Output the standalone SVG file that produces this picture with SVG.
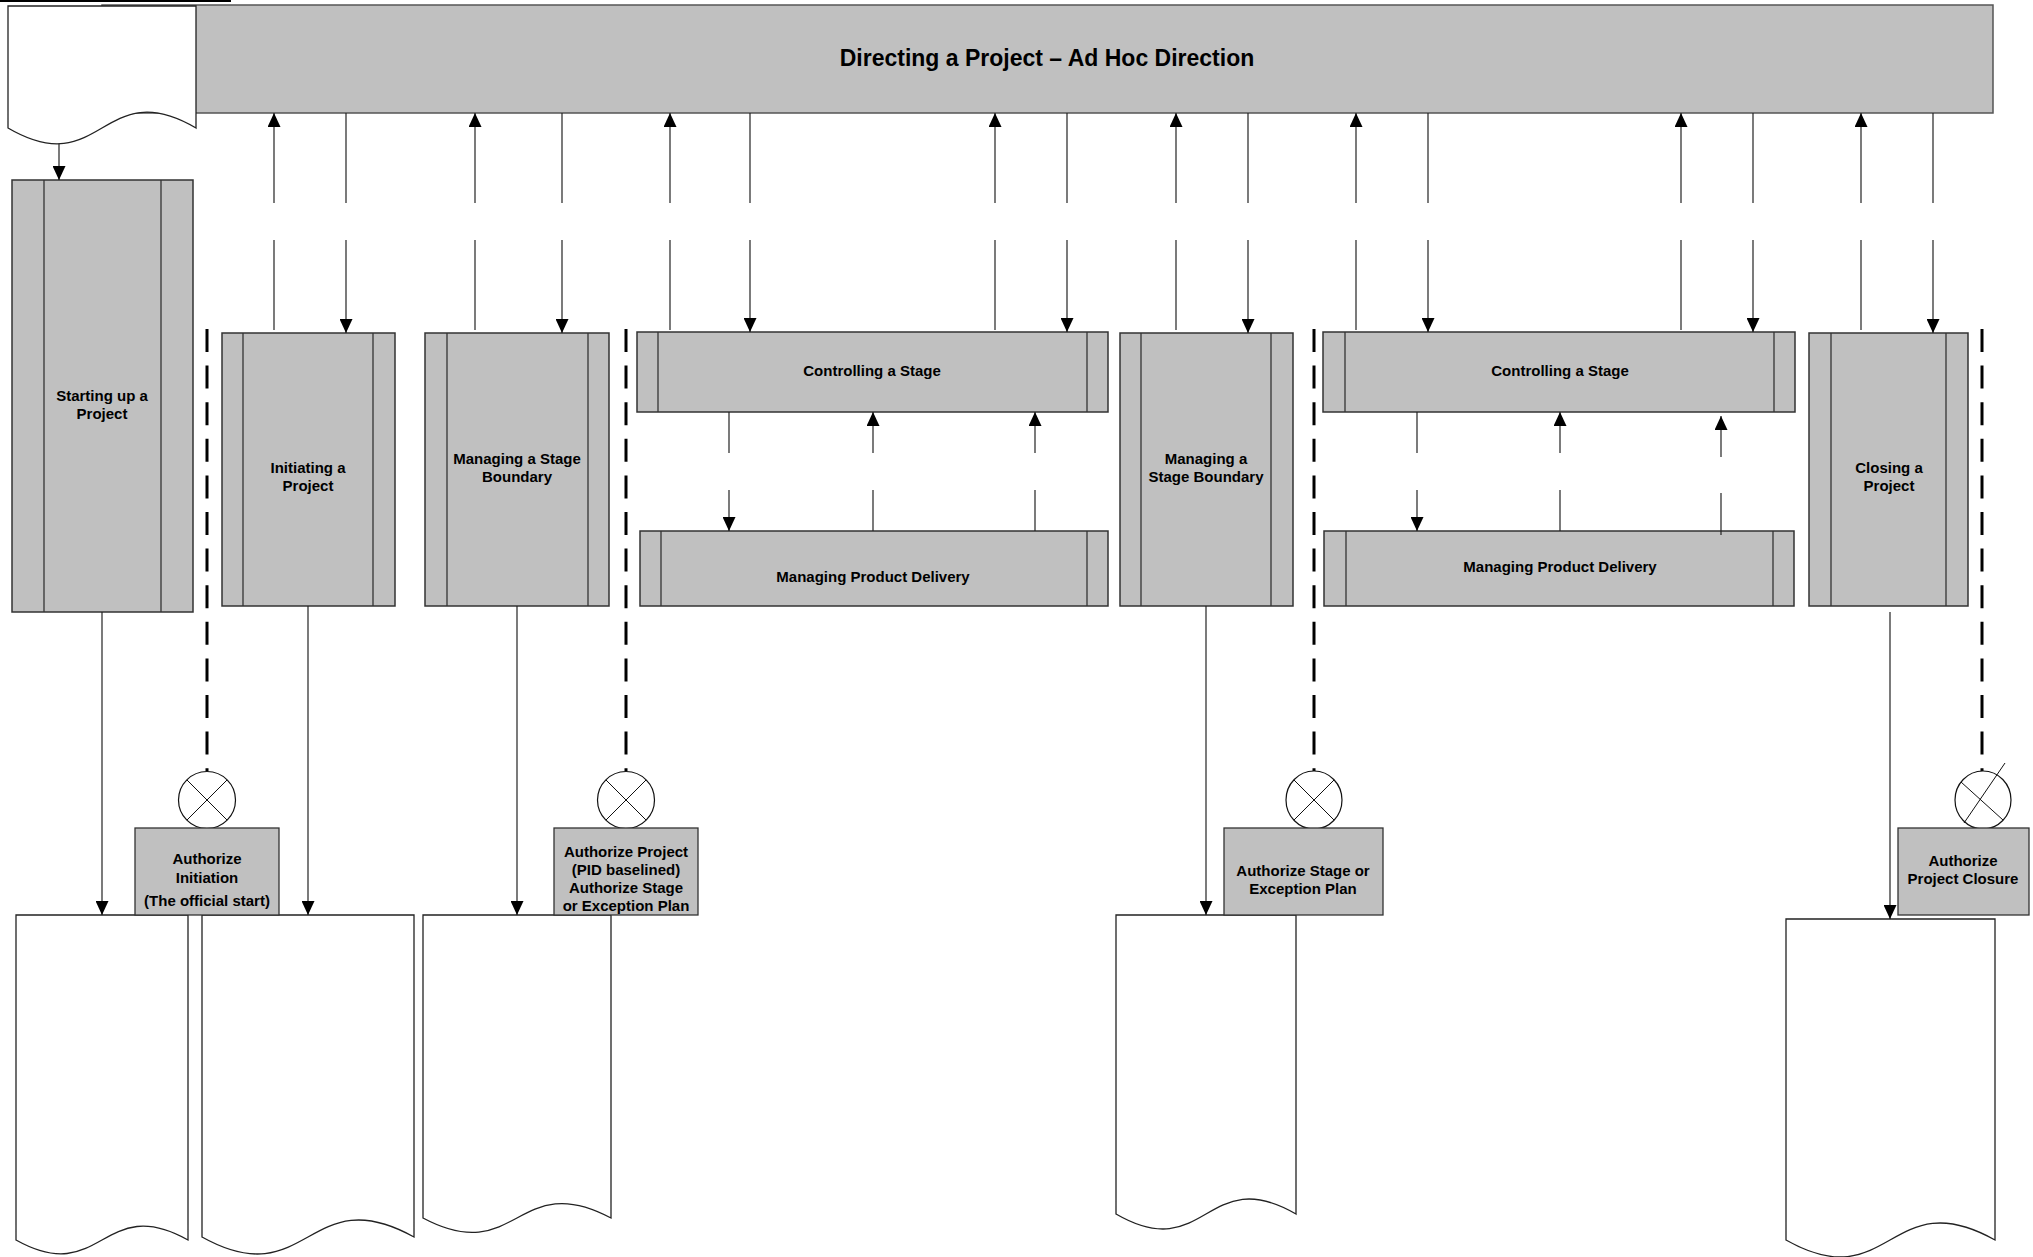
<svg xmlns="http://www.w3.org/2000/svg" width="2033" height="1257" viewBox="0 0 2033 1257">
<style>
  .bg{fill:#ffffff}
  .proc{fill:#c0c0c0;stroke:#333333;stroke-width:1.5}
  .bar{fill:#c0c0c0;stroke:#555555;stroke-width:1.5}
  .inner{stroke:#333333;stroke-width:1.3;fill:none}
  .doc{fill:#ffffff;stroke:#222222;stroke-width:1.3}
  .auth{fill:#c0c0c0;stroke:#333333;stroke-width:1.3}
  .conn{stroke:#222222;stroke-width:1.2;fill:none}
  .arr{stroke:#222222;stroke-width:1.2;fill:none;marker-end:url(#ah)}
  .dash{stroke:#000000;stroke-width:3;fill:none;stroke-dasharray:23 13.6}
  .gate{fill:#ffffff;stroke:#111111;stroke-width:1.2}
  .gx{stroke:#111111;stroke-width:1;fill:none}
  text{font-family:"Liberation Sans",Arial,Helvetica,sans-serif;font-weight:bold;font-size:15px;fill:#000000;text-anchor:middle}
  .title{font-size:23px}
</style>
<defs>
  <marker id="ah" viewBox="0 0 14 13" refX="14" refY="6.5" markerWidth="14" markerHeight="13" markerUnits="userSpaceOnUse" orient="auto">
    <path d="M0,0 L14,6.5 L0,13 Z" fill="#000000"/>
  </marker>
</defs>
<rect class="bg" x="0" y="0" width="2033" height="1257"/>
<line x1="0" y1="1" x2="231" y2="1" stroke="#000" stroke-width="2"/>

<g id="directing">
  <rect class="bar" x="102" y="5" width="1891" height="108"/>
  <text class="title" x="1047" y="66">Directing a Project – Ad Hoc Direction</text>
</g>

<g id="doc-top">
  <path class="doc" d="M8,6 H196 V128 C102,73 102,183 8,128 Z"/>
</g>

<g id="starting-up">
  <rect class="proc" x="12" y="180" width="181" height="432"/>
  <line class="inner" x1="44" y1="180" x2="44" y2="612"/>
  <line class="inner" x1="161" y1="180" x2="161" y2="612"/>
  <text x="102" y="401">Starting up a</text>
  <text x="102" y="419">Project</text>
</g>

<g id="initiating">
  <rect class="proc" x="222" y="333" width="173" height="273"/>
  <line class="inner" x1="243" y1="333" x2="243" y2="606"/>
  <line class="inner" x1="373" y1="333" x2="373" y2="606"/>
  <text x="308" y="473">Initiating a</text>
  <text x="308" y="491">Project</text>
</g>

<g id="msb1">
  <rect class="proc" x="425" y="333" width="184" height="273"/>
  <line class="inner" x1="447" y1="333" x2="447" y2="606"/>
  <line class="inner" x1="588" y1="333" x2="588" y2="606"/>
  <text x="517" y="464">Managing a Stage</text>
  <text x="517" y="482">Boundary</text>
</g>

<g id="cs1">
  <rect class="proc" x="637" y="332" width="471" height="80"/>
  <line class="inner" x1="658" y1="332" x2="658" y2="412"/>
  <line class="inner" x1="1087" y1="332" x2="1087" y2="412"/>
  <text x="872" y="376">Controlling a Stage</text>
</g>

<g id="mpd1">
  <rect class="proc" x="640" y="531" width="468" height="75"/>
  <line class="inner" x1="661" y1="531" x2="661" y2="606"/>
  <line class="inner" x1="1087" y1="531" x2="1087" y2="606"/>
  <text x="873" y="582">Managing Product Delivery</text>
</g>

<g id="msb2">
  <rect class="proc" x="1120" y="333" width="173" height="273"/>
  <line class="inner" x1="1141" y1="333" x2="1141" y2="606"/>
  <line class="inner" x1="1271" y1="333" x2="1271" y2="606"/>
  <text x="1206" y="464">Managing a</text>
  <text x="1206" y="482">Stage Boundary</text>
</g>

<g id="cs2">
  <rect class="proc" x="1323" y="332" width="472" height="80"/>
  <line class="inner" x1="1345" y1="332" x2="1345" y2="412"/>
  <line class="inner" x1="1774" y1="332" x2="1774" y2="412"/>
  <text x="1560" y="376">Controlling a Stage</text>
</g>

<g id="mpd2">
  <rect class="proc" x="1324" y="531" width="470" height="75"/>
  <line class="inner" x1="1346" y1="531" x2="1346" y2="606"/>
  <line class="inner" x1="1773" y1="531" x2="1773" y2="606"/>
  <text x="1560" y="572">Managing Product Delivery</text>
</g>

<g id="closing">
  <rect class="proc" x="1809" y="333" width="159" height="273"/>
  <line class="inner" x1="1831" y1="333" x2="1831" y2="606"/>
  <line class="inner" x1="1946" y1="333" x2="1946" y2="606"/>
  <text x="1889" y="473">Closing a</text>
  <text x="1889" y="491">Project</text>
</g>

<g id="gates">
  <line class="dash" x1="207" y1="329" x2="207" y2="771"/>
  <line class="dash" x1="626" y1="329" x2="626" y2="771"/>
  <line class="dash" x1="1314" y1="329" x2="1314" y2="771"/>
  <line class="dash" x1="1982" y1="329" x2="1982" y2="771"/>
</g>

<g id="gate1">
  <circle class="gate" cx="207" cy="800" r="28.5"/>
  <line class="gx" x1="187" y1="780" x2="227" y2="820"/>
  <line class="gx" x1="227" y1="780" x2="187" y2="820"/>
</g>
<g id="gate2">
  <circle class="gate" cx="626" cy="800" r="28.5"/>
  <line class="gx" x1="606" y1="780" x2="646" y2="820"/>
  <line class="gx" x1="646" y1="780" x2="606" y2="820"/>
</g>
<g id="gate3">
  <ellipse class="gate" cx="1314" cy="800" rx="28" ry="29"/>
  <line class="gx" x1="1294" y1="780" x2="1334" y2="820"/>
  <line class="gx" x1="1334" y1="780" x2="1294" y2="820"/>
</g>
<g id="gate4">
  <ellipse class="gate" cx="1983" cy="800" rx="28" ry="29"/>
  <line class="gx" x1="2005" y1="763" x2="1964" y2="823"/>
  <line class="gx" x1="1961" y1="782" x2="2003" y2="820"/>
</g>

<g id="docs-bottom">
  <path class="doc" d="M16,915 H188 V1240 C102,1192 102,1288 16,1240 Z"/>
  <path class="doc" d="M202,915 H414 V1237 C308,1178 308,1296 202,1237 Z"/>
  <path class="doc" d="M423,915 H611 V1218 C517,1168 517,1268 423,1218 Z"/>
  <path class="doc" d="M1116,915 H1296 V1214 C1206,1162 1206,1266 1116,1214 Z"/>
  <path class="doc" d="M1786,919 H1995 V1240 C1890,1181 1890,1299 1786,1240 Z"/>
</g>

<g id="auth-initiation">
  <rect class="auth" x="135" y="828" width="144" height="87"/>
  <text x="207" y="864">Authorize</text>
  <text x="207" y="883">Initiation</text>
  <text x="207" y="906">(The official start)</text>
</g>
<g id="auth-project">
  <rect class="auth" x="554" y="828" width="144" height="87"/>
  <text x="626" y="857">Authorize Project</text>
  <text x="626" y="875">(PID baselined)</text>
  <text x="626" y="893">Authorize Stage</text>
  <text x="626" y="911">or Exception Plan</text>
</g>
<g id="auth-stage">
  <rect class="auth" x="1224" y="828" width="159" height="87"/>
  <text x="1303" y="876">Authorize Stage or</text>
  <text x="1303" y="894">Exception Plan</text>
</g>
<g id="auth-closure">
  <rect class="auth" x="1898" y="828" width="131" height="87"/>
  <text x="1963" y="866">Authorize</text>
  <text x="1963" y="884">Project Closure</text>
</g>

<g id="connectors">
  <line class="arr" x1="59" y1="144" x2="59" y2="180"/>
  <!-- top bar pairs: up arrows -->
  <line class="conn" x1="274" y1="330" x2="274" y2="240"/><line class="arr" x1="274" y1="203" x2="274" y2="113"/>
  <line class="conn" x1="475" y1="330" x2="475" y2="240"/><line class="arr" x1="475" y1="203" x2="475" y2="113"/>
  <line class="conn" x1="670" y1="330" x2="670" y2="240"/><line class="arr" x1="670" y1="203" x2="670" y2="113"/>
  <line class="conn" x1="995" y1="330" x2="995" y2="240"/><line class="arr" x1="995" y1="203" x2="995" y2="113"/>
  <line class="conn" x1="1176" y1="330" x2="1176" y2="240"/><line class="arr" x1="1176" y1="203" x2="1176" y2="113"/>
  <line class="conn" x1="1356" y1="330" x2="1356" y2="240"/><line class="arr" x1="1356" y1="203" x2="1356" y2="113"/>
  <line class="conn" x1="1681" y1="330" x2="1681" y2="240"/><line class="arr" x1="1681" y1="203" x2="1681" y2="113"/>
  <line class="conn" x1="1861" y1="330" x2="1861" y2="240"/><line class="arr" x1="1861" y1="203" x2="1861" y2="113"/>
  <!-- down arrows -->
  <line class="conn" x1="346" y1="113" x2="346" y2="203"/><line class="arr" x1="346" y1="240" x2="346" y2="333"/>
  <line class="conn" x1="562" y1="113" x2="562" y2="203"/><line class="arr" x1="562" y1="240" x2="562" y2="333"/>
  <line class="conn" x1="750" y1="113" x2="750" y2="203"/><line class="arr" x1="750" y1="240" x2="750" y2="332"/>
  <line class="conn" x1="1067" y1="113" x2="1067" y2="203"/><line class="arr" x1="1067" y1="240" x2="1067" y2="332"/>
  <line class="conn" x1="1248" y1="113" x2="1248" y2="203"/><line class="arr" x1="1248" y1="240" x2="1248" y2="333"/>
  <line class="conn" x1="1428" y1="113" x2="1428" y2="203"/><line class="arr" x1="1428" y1="240" x2="1428" y2="332"/>
  <line class="conn" x1="1753" y1="113" x2="1753" y2="203"/><line class="arr" x1="1753" y1="240" x2="1753" y2="332"/>
  <line class="conn" x1="1933" y1="113" x2="1933" y2="203"/><line class="arr" x1="1933" y1="240" x2="1933" y2="333"/>
  <!-- controlling / delivery 1 -->
  <line class="conn" x1="729" y1="412" x2="729" y2="453"/><line class="arr" x1="729" y1="490" x2="729" y2="531"/>
  <line class="conn" x1="873" y1="531" x2="873" y2="490"/><line class="arr" x1="873" y1="453" x2="873" y2="412"/>
  <line class="conn" x1="1035" y1="531" x2="1035" y2="490"/><line class="arr" x1="1035" y1="453" x2="1035" y2="412"/>
  <!-- controlling / delivery 2 -->
  <line class="conn" x1="1417" y1="412" x2="1417" y2="453"/><line class="arr" x1="1417" y1="490" x2="1417" y2="531"/>
  <line class="conn" x1="1560" y1="531" x2="1560" y2="490"/><line class="arr" x1="1560" y1="453" x2="1560" y2="412"/>
  <line class="conn" x1="1721" y1="535" x2="1721" y2="493"/><line class="arr" x1="1721" y1="457" x2="1721" y2="416"/>
  <!-- to bottom documents -->
  <line class="arr" x1="102" y1="612" x2="102" y2="915"/>
  <line class="arr" x1="308" y1="606" x2="308" y2="915"/>
  <line class="arr" x1="517" y1="606" x2="517" y2="915"/>
  <line class="arr" x1="1206" y1="606" x2="1206" y2="915"/>
  <line class="arr" x1="1890" y1="612" x2="1890" y2="919"/>
</g>
</svg>
